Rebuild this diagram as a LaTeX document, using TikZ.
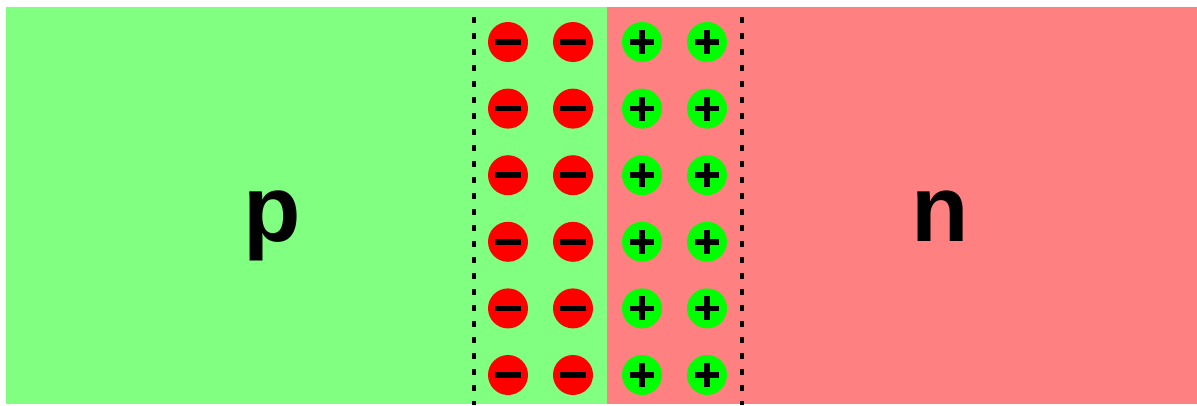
\documentclass[tikz,border=0pt]{standalone}
\usepackage{fontspec}
\setmainfont{Liberation Sans}
\definecolor{pside}{HTML}{80FF80}
\definecolor{nside}{HTML}{FF8080}
\definecolor{lime}{HTML}{00FF00}
\tikzset{
  ion/.style={circle,minimum size=40pt,inner sep=0pt},
  acceptor/.style={ion,fill=red},
  donor/.style={ion,fill=lime},
  sign/.style={line width=5.5pt},
  edge/.style={line width=4pt,dash pattern=on 6pt off 10pt},
  region/.style={font=\fontsize{94}{94}\selectfont\bfseries,anchor=base}
}
\begin{document}
\begin{tikzpicture}[x=1pt,y=-1pt]
\useasboundingbox (0,0) rectangle (1197,405);
% doped regions
\fill[pside] (6,7) rectangle (607,404);
\fill[nside] (607,7) rectangle (1197,404);
% depletion layer
\foreach \r in {1,...,6} {
  \pgfmathsetmacro{\yy}{42+66.6*(\r-1)}
  \node[acceptor] (a\r-1) at (508,\yy) {};
  \node[acceptor] (a\r-2) at (573,\yy) {};
  \node[donor] (d\r-1) at (642,\yy) {};
  \node[donor] (d\r-2) at (707,\yy) {};
  \foreach \c in {1,2} {
    \draw[sign] (a\r-\c.center) ++(-13,0) -- ++(26,0);
    \draw[sign] (d\r-\c.center) ++(-12,0) -- ++(24,0);
    \draw[sign] (d\r-\c.center) ++(0,-12) -- ++(0,24);
  }
}
\coordinate (lt) at (474,17);
\coordinate (lb) at (474,405);
\coordinate (rt) at (742,17);
\coordinate (rb) at (742,405);
\draw[edge] (lt) -- (lb);
\draw[edge] (rt) -- (rb);
% labels
\node[region] (p) at (272,241) {p};
\node[region] (n) at (940,241) {n};
\end{tikzpicture}
\end{document}
